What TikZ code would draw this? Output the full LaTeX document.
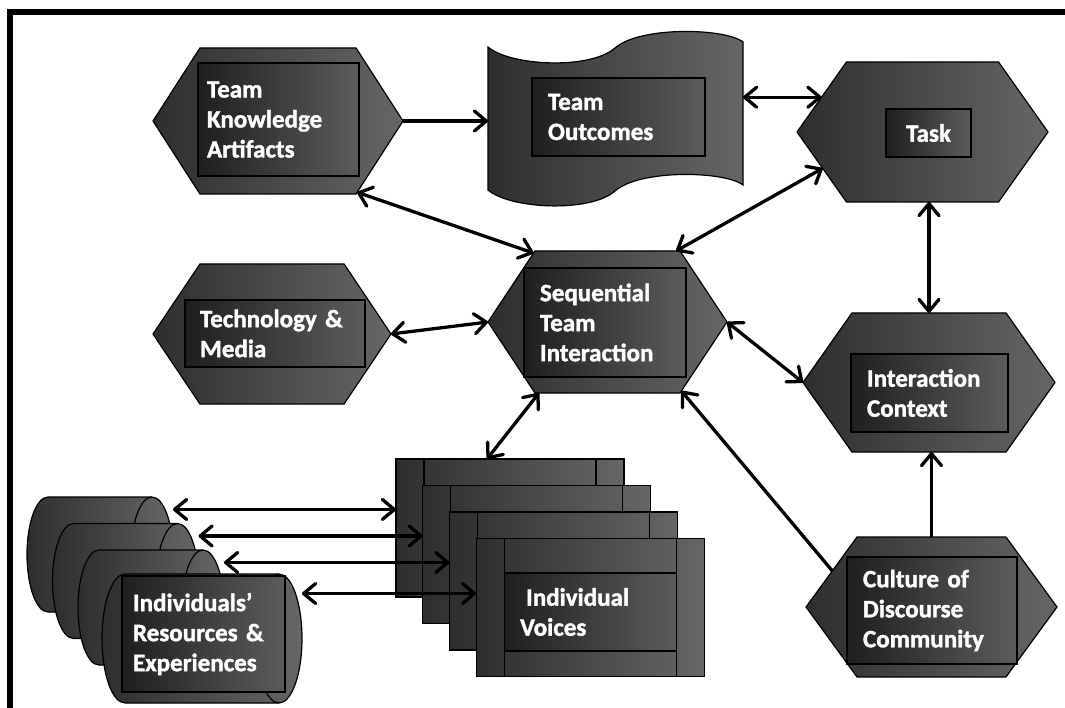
\documentclass[tikz,border=0pt]{standalone}
\usepackage{fontspec}
\setmainfont{Carlito}[BoldFeatures={FakeBold=1.5}]
\usetikzlibrary{shapes.symbols,arrows.meta}

\begin{document}
\begin{tikzpicture}[x=1pt,y=-1pt,>={Straight Barb[length=12pt,width=20pt,round]}]
    \tikzstyle{darkfill}=[draw=black,line width=1.2pt,left color=black!82,right color=black!60]
    \tikzstyle{hexa}=[darkfill,signal,signal to=west and east,inner sep=0pt,outer sep=0pt]
    \tikzstyle{txtbox}=[draw=black,line width=1.2pt,left color=black!88,right color=black!64,text=white,
        font=\bfseries\fontsize{25}{30}\selectfont,align=left,inner xsep=16pt,inner ysep=0pt]
    \tikzstyle{link}=[line width=3.3pt,<->]

    \useasboundingbox (0,0) rectangle (1065,708);
    \fill (7,9) rectangle (1065,15);
    \fill (7,9) rectangle (13,708);

    % hexagons
    \foreach \name/\x/\y/\w/\h/\a in {tka/278/121/250/146/114.5, tech/272/334/238/140/112.3,
            sti/607.5/322/239/142/113, task/922.5/132/251/140/109.5,
            ic/929/382.5/252/139/109.7, culture/931.5/607/251/140/107.8}
        \node[hexa,minimum width=\w pt,minimum height=\h pt,signal pointer angle=\a] (\name) at (\x,\y) {};

    \node[txtbox,text width=143pt,minimum height=113pt,inner xsep=9pt] (tka-txt) at (278.5,119.5) {Team\\Knowledge\\Artifacts};
    \node[txtbox,text width=150pt,minimum height=67pt,inner xsep=15pt] (tech-txt) at (275,333.5) {Technology \&\\Media};
    \node[txtbox,text width=130pt,minimum height=109pt] (sti-txt) at (605,322.5) {Sequential\\Team\\Interaction};
    \node[txtbox,minimum width=85pt,minimum height=48pt,inner xsep=0pt] (task-txt) at (928.5,133) {Task};
    \node[txtbox,text width=125pt,minimum height=78pt] (ic-txt) at (929.5,393) {Interaction\\Context};
    \node[txtbox,text width=138pt,minimum height=107pt] (culture-txt) at (932,610.5) {Culture of\\Discourse\\Community};

    % team outcomes
    \node[minimum width=255pt,minimum height=140pt,inner sep=0pt,outer sep=0pt] (outcomes) at (615.5,117) {};
    \path[darkfill] (488,47) .. controls (510,66) and (590,70) .. (615,48)
        .. controls (640,26) and (725,28) .. (743,42) -- (743,185)
        .. controls (725,171) and (640,169) .. (615,191)
        .. controls (590,213) and (510,209) .. (488,190) -- cycle;
    \node[txtbox,text width=141pt,minimum height=78pt] (outcomes-txt) at (618.5,117) {Team\\Outcomes};

    % individual voices
    \foreach \i/\txt in {0/{},1/{},2/{},3/{\hspace*{6pt}Individual\\Voices}} {
        \node[darkfill,minimum width=228pt,minimum height=138pt,inner sep=0pt,outer sep=0pt] (iv-\i) at (510+26.7*\i,528+26.5*\i) {};
        \draw[line width=1.2pt] ([xshift=28pt]iv-\i.north west) -- ([xshift=28pt]iv-\i.south west);
        \draw[line width=1.2pt] ([xshift=-28pt]iv-\i.north east) -- ([xshift=-28pt]iv-\i.south east);
        \node[txtbox,text width=140pt,minimum height=78pt] (iv-txt-\i) at ([yshift=-4.5pt]iv-\i.center) {\txt};
    }

    % individuals' resources (cylinders)
    \foreach \i/\x/\y/\w/\h/\rx in {0/100/554.5/146/115/21, 1/125.5/581/146/115/21,
            2/151/607.5/146/115/21, 3/202/638.5/200/129/23} {
        \node[minimum width=\w pt,minimum height=\h pt,inner sep=0pt,outer sep=0pt] (cyl-\i) at (\x,\y) {};
        \path[darkfill] ([xshift=\rx pt]cyl-\i.north west) -- ([xshift=-\rx pt]cyl-\i.north east)
            arc[start angle=90,end angle=-90,x radius=\rx pt,y radius=0.5*\h pt]
            -- ([xshift=\rx pt]cyl-\i.south west)
            arc[start angle=270,end angle=90,x radius=\rx pt,y radius=0.5*\h pt] -- cycle;
        \draw[line width=1.2pt] ([xshift=-\rx pt]cyl-\i.north east)
            arc[start angle=90,end angle=270,x radius=\rx pt,y radius=0.5*\h pt];
    }
    \node[txtbox,text width=141pt,minimum height=116pt,inner xsep=11pt] (cyl-txt) at (203.5,634) {Individuals’\\Resources \&\\Experiences};

    % connectors
    \draw[link,->] (tka.east) -- (tka.east -| outcomes.west);
    \draw[link] (tka.318) -- (sti.137);
    \draw[link] (tech.east) -- (sti.west);
    \draw[link] (outcomes.east |- task.161) -- (task.161);
    \draw[link] (sti.46) -- (task.200);
    \draw[link] (task.south -| ic.north) -- (ic.north);
    \draw[link] (sti.east) -- (ic.west);
    \draw[link,->] (culture.160) -- (sti.317);
    \draw[link,->] (culture.north) -- (culture.north |- ic.south);
    \draw[link] (sti.226) -- ([xshift=-23pt]iv-0.north);
    \foreach \i in {0,...,3}
        \draw[link] ([yshift=45pt]cyl-\i.east) -- ([yshift=45pt]cyl-\i.east -| iv-\i.west);
\end{tikzpicture}
\end{document}
